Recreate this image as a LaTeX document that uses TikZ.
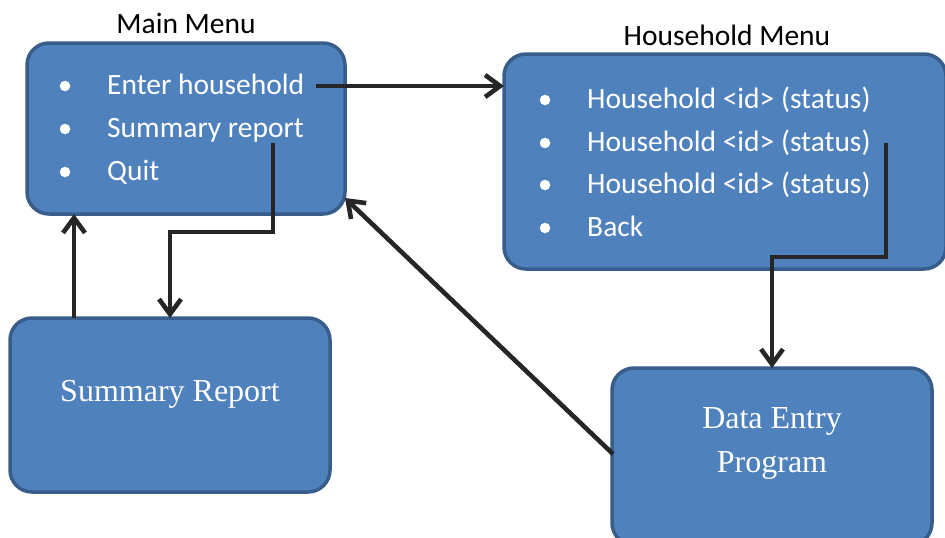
\documentclass[tikz,border=0pt]{standalone}
\usepackage{fontspec}
\setmainfont{Liberation Serif}
\newfontfamily\calibri{Carlito}
\usetikzlibrary{arrows.meta}
\definecolor{boxfill}{HTML}{4F81BD}
\definecolor{boxedge}{HTML}{385D8A}
\definecolor{arrowc}{HTML}{262626}
\tikzset{
  box/.style={draw=boxedge, fill=boxfill, line width=3.5pt, rounded corners=22pt, anchor=north west, inner sep=0pt, outer sep=0pt},
  sanstxt/.style={font=\calibri\fontsize{29.5}{35}\selectfont, inner sep=0pt, anchor=base west, text=white},
  titletxt/.style={font=\calibri\fontsize{29.5}{35}\selectfont, inner sep=0pt, anchor=base, text=black},
  seriftxt/.style={font=\fontsize{32}{38}\selectfont, inner sep=0pt, anchor=base, text=white},
  bullet/.style={circle, fill=white, inner sep=0pt, minimum size=10.5pt},
  arr/.style={draw=arrowc, line width=4.6pt, -{Straight Barb[length=15pt,width=22pt]}}
}
\begin{document}
\begin{tikzpicture}[x=1pt,y=-1pt]
\useasboundingbox (0,0) rectangle (945,538);
% boxes
\node[box, minimum width=318pt, minimum height=171pt] (main) at (27,43) {};
\node[box, minimum width=442pt, minimum height=215pt] (hh) at (504,54) {};
\node[box, minimum width=320pt, minimum height=174pt] (sum) at (10,318) {};
\node[box, minimum width=320pt, minimum height=177pt] (de) at (612,368) {};
% titles
\node[titletxt] (t1) at (186,33) {Main Menu};
\node[titletxt] (t2) at (727,45) {Household Menu};
% main menu items
\node[bullet] (mb1) at (65,86) {};
\node[bullet] (mb2) at (65,129) {};
\node[bullet] (mb3) at (65,172) {};
\node[sanstxt] (m1) at (107,94) {Enter household};
\node[sanstxt] (m2) at (107,137) {Summary report};
\node[sanstxt] (m3) at (107,180) {Quit};
% household menu items
\node[bullet] (hb1) at (545,100) {};
\node[bullet] (hb2) at (545,143) {};
\node[bullet] (hb3) at (545,185) {};
\node[bullet] (hb4) at (545,228) {};
\node[sanstxt] (h1) at (587,108) {Household <id> (status)};
\node[sanstxt] (h2) at (587,151) {Household <id> (status)};
\node[sanstxt] (h3) at (587,193) {Household <id> (status)};
\node[sanstxt] (h4) at (587,236) {Back};
% serif texts
\node[seriftxt] (st) at (170,401) {Summary Report};
\node[seriftxt] (d1) at (772,428) {Data Entry};
\node[seriftxt] (d2) at (772,472) {Program};
% connector points
\coordinate (c1) at (316,86);
\coordinate (c2) at (273,143);
\coordinate (c3) at (170,232);
\coordinate (c4) at (74,318);
\coordinate (c5) at (613,454);
\coordinate (c6) at (345,198);
\coordinate (c7) at (886,143);
\coordinate (c8) at (772,257);
% connectors
\draw[arr] (c1) -- (c1 -| hh.west);
\draw[arr] (c2) |- (c3) -- (c3 |- sum.north);
\draw[arr] (c4) -- (c4 |- main.south);
\draw[arr] (c5) -- (c6);
\draw[arr] (c7) |- (c8) -- (c8 |- de.north);
\end{tikzpicture}
\end{document}
